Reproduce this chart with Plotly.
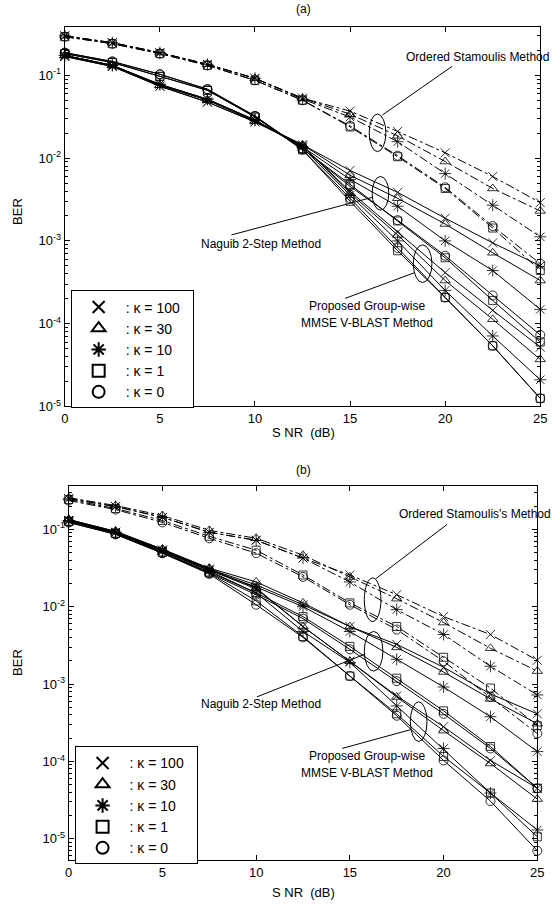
import plotly.graph_objects as go

W, H = 560, 917
snr = [0, 2.5, 5, 7.5, 10, 12.5, 15, 17.5, 20, 22.5, 25]
kappa_labels = [": \u03ba = 100", ": \u03ba = 30", ": \u03ba = 10", ": \u03ba = 1", ": \u03ba = 0"]

# ---------------- Panel (a) ----------------
a_stam_k100 = [0.30, 0.248, 0.188, 0.136, 0.092, 0.053, 0.037, 0.021, 0.0116, 0.0060, 0.0029]
a_stam_k30  = [0.30, 0.248, 0.188, 0.136, 0.092, 0.053, 0.034, 0.0186, 0.0091, 0.0043, 0.0023]
a_stam_k10  = [0.30, 0.248, 0.188, 0.136, 0.092, 0.0516, 0.0314, 0.0158, 0.0065, 0.0027, 0.00112]
a_stam_k1   = [0.293, 0.241, 0.183, 0.132, 0.087, 0.050, 0.0238, 0.0104, 0.0043, 0.00143, 0.00044]
a_stam_k0   = [0.293, 0.241, 0.183, 0.132, 0.087, 0.050, 0.0245, 0.0107, 0.00444, 0.00151, 0.00053]

a_nag_k100 = [0.169, 0.128, 0.0738, 0.0475, 0.0274, 0.0145, 0.0071, 0.00386, 0.00188, 0.000946, 0.00050]
a_nag_k30  = [0.174, 0.132, 0.0759, 0.0502, 0.0281, 0.0145, 0.0062, 0.00327, 0.0016, 0.000718, 0.000332]
a_nag_k10  = [0.174, 0.132, 0.078, 0.0516, 0.0289, 0.0137, 0.00553, 0.00262, 0.0010, 0.000438, 0.000149]
a_nag_k1   = [0.183, 0.143, 0.0973, 0.066, 0.0314, 0.013, 0.00482, 0.00174, 0.000625, 0.000191, 0.000060]
a_nag_k0   = [0.188, 0.147, 0.103, 0.068, 0.0323, 0.013, 0.00456, 0.00178, 0.000661, 0.000219, 0.000073]

a_prop_k100 = [0.169, 0.128, 0.0738, 0.0475, 0.0274, 0.0141, 0.00397, 0.00128, 0.000414, 0.000145, 0.000052]
a_prop_k30  = [0.174, 0.132, 0.0759, 0.0502, 0.0281, 0.0141, 0.00376, 0.00118, 0.000332, 0.000113, 0.000037]
a_prop_k10  = [0.174, 0.132, 0.078, 0.0516, 0.0289, 0.0134, 0.00356, 0.0010, 0.000252, 0.000071, 0.000021]
a_prop_k1   = [0.183, 0.143, 0.0973, 0.066, 0.0314, 0.0126, 0.00301, 0.00076, 0.000207, 0.000054, 0.0000125]
a_prop_k0   = [0.188, 0.147, 0.103, 0.068, 0.0323, 0.0126, 0.00327, 0.00082, 0.000207, 0.000054, 0.0000125]

# ---------------- Panel (b) ----------------
b_stam_k100 = [0.249, 0.197, 0.143, 0.0916, 0.0723, 0.0425, 0.0257, 0.0143, 0.00745, 0.00437, 0.00203]
b_stam_k30  = [0.257, 0.203, 0.151, 0.097, 0.0767, 0.0464, 0.0243, 0.0127, 0.00624, 0.0029, 0.00147]
b_stam_k10  = [0.249, 0.197, 0.143, 0.0916, 0.0723, 0.0425, 0.0209, 0.00916, 0.00437, 0.0017, 0.000723]
b_stam_k1   = [0.243, 0.186, 0.130, 0.0813, 0.0538, 0.0257, 0.0112, 0.00554, 0.00222, 0.000889, 0.00029]
b_stam_k0   = [0.236, 0.180, 0.123, 0.0767, 0.0492, 0.0243, 0.0106, 0.00507, 0.00197, 0.000681, 0.000229]

b_nag_k100 = [0.130, 0.0916, 0.0538, 0.0307, 0.0191, 0.0106, 0.00554, 0.00326, 0.00165, 0.000745, 0.000412]
b_nag_k30  = [0.134, 0.0942, 0.0554, 0.0316, 0.0209, 0.0112, 0.00554, 0.00298, 0.00143, 0.000643, 0.000307]
b_nag_k10  = [0.130, 0.0916, 0.0522, 0.0298, 0.018, 0.010, 0.00478, 0.00209, 0.000916, 0.000378, 0.000134]
b_nag_k1   = [0.127, 0.0889, 0.0507, 0.0281, 0.0151, 0.00745, 0.00307, 0.00119, 0.000451, 0.000156, 0.000045]
b_nag_k0   = [0.123, 0.0863, 0.0492, 0.0273, 0.0143, 0.00702, 0.00281, 0.00109, 0.000412, 0.000147, 0.000045]

b_prop_k100 = [0.130, 0.0916, 0.0538, 0.0298, 0.017, 0.00554, 0.00197, 0.000702, 0.000281, 0.000103, 0.000045]
b_prop_k30  = [0.134, 0.0942, 0.0554, 0.0307, 0.0175, 0.00554, 0.00197, 0.000681, 0.00025, 0.000094, 0.0000326]
b_prop_k10  = [0.130, 0.0916, 0.0522, 0.029, 0.0151, 0.00478, 0.00191, 0.000522, 0.000147, 0.000039, 0.000013]
b_prop_k1   = [0.127, 0.0889, 0.0507, 0.0273, 0.0119, 0.00412, 0.00127, 0.000412, 0.000116, 0.000039, 0.0000106]
b_prop_k0   = [0.123, 0.0863, 0.0492, 0.0265, 0.0106, 0.00401, 0.00127, 0.000389, 0.000103, 0.0000307, 0.0000070]

symbols = ["x-thin-open", "triangle-up-open", "asterisk-open", "square-open", "circle-open"]
sizes = [9, 9, 10, 8, 9]

panels = {
    "a": [("dashdot", [a_stam_k100, a_stam_k30, a_stam_k10, a_stam_k1, a_stam_k0]),
          ("solid", [a_nag_k100, a_nag_k30, a_nag_k10, a_nag_k1, a_nag_k0]),
          ("solid", [a_prop_k100, a_prop_k30, a_prop_k10, a_prop_k1, a_prop_k0])],
    "b": [("dashdot", [b_stam_k100, b_stam_k30, b_stam_k10, b_stam_k1, b_stam_k0]),
          ("solid", [b_nag_k100, b_nag_k30, b_nag_k10, b_nag_k1, b_nag_k0]),
          ("solid", [b_prop_k100, b_prop_k30, b_prop_k10, b_prop_k1, b_prop_k0])],
}
axes = {"a": ("x", "y"), "b": ("x2", "y2")}

fig = go.Figure()
for p, groups in panels.items():
    xa, ya = axes[p]
    for dash, series in groups:
        for i, vals in enumerate(series):
            fig.add_trace(go.Scatter(
                x=snr, y=vals, mode="lines+markers", xaxis=xa, yaxis=ya,
                line=dict(color="black", width=1, dash=dash),
                marker=dict(symbol=symbols[i], size=sizes[i], color="black",
                            line=dict(color="black", width=0.8)),
                cliponaxis=False, showlegend=False, hoverinfo="skip"))
    # legend entries
    for i, lab in enumerate(kappa_labels):
        fig.add_trace(go.Scatter(
            x=[None], y=[None], mode="markers", xaxis=xa, yaxis=ya,
            marker=dict(symbol=symbols[i], size=sizes[i], color="black",
                        line=dict(color="black", width=0.8)),
            name=lab + "\u00a0\u00a0", showlegend=True,
            legend="legend" if p == "a" else "legend2"))

def px(x):
    return x / W

def py(y):
    return 1 - y / H

FONT = "Liberation Sans, Arial, sans-serif"
dec_vals = [1e-5, 1e-4, 1e-3, 1e-2, 1e-1]
dec_text = ["10<sup>-5</sup>", "10<sup>-4</sup>", "10<sup>-3</sup>", "10<sup>-2</sup>", "10<sup>-1</sup>"]
minor_vals = [m * 10.0 ** e for e in range(-6, 0) for m in range(2, 10)]

def yaxis(dom, rng, anchor):
    return dict(type="log", domain=dom, range=rng, tickmode="array", anchor=anchor,
                tickvals=dec_vals, ticktext=dec_text, ticks="inside", ticklen=5,
                tickcolor="black", showline=True, linecolor="black", linewidth=1,
                mirror="ticks", showgrid=False, zeroline=False,
                tickfont=dict(family=FONT, size=13, color="black"),
                minor=dict(tickmode="array", tickvals=minor_vals, ticks="inside",
                           ticklen=3, tickcolor="black", showgrid=False))

def xaxis(dom, anchor):
    return dict(domain=dom, range=[0, 25], tickmode="array",
                tickvals=[0, 5, 10, 15, 20, 25], ticks="inside", ticklen=5,
                tickcolor="black", showline=True, linecolor="black", linewidth=1,
                mirror="ticks", showgrid=False, zeroline=False, anchor=anchor,
                tickfont=dict(family=FONT, size=13, color="black"))

leg_common = dict(xanchor="left", yanchor="top", bordercolor="black", borderwidth=1,
                  bgcolor="white", font=dict(family=FONT, size=14, color="black"),
                  tracegroupgap=0, itemsizing="constant", itemwidth=44)

fig.update_layout(
    width=W, height=H, margin=dict(l=0, r=0, t=0, b=0),
    paper_bgcolor="white", plot_bgcolor="white",
    xaxis=xaxis([px(62), px(547)], "y"),
    yaxis=yaxis([py(410), py(27)], [-5, -0.413], "x"),
    xaxis2=xaxis([px(66), px(544)], "y2"),
    yaxis2=yaxis([py(868), py(490)], [-5.28, -0.436], "x2"),
    legend=dict(x=px(68), y=py(293), **leg_common),
    legend2=dict(x=px(72), y=py(753), **leg_common),
)

ann = []
def text(x, y, s, size=12, angle=0, xanchor="center"):
    ann.append(dict(x=px(x), y=py(y), xref="paper", yref="paper", text=s,
                    showarrow=False, textangle=angle, xanchor=xanchor, yanchor="middle",
                    font=dict(family=FONT, size=size, color="black")))

text(305, 9, "(a)", 12)
text(305, 436, "S NR  (dB)", 13)
text(13, 213, "BER", 13, angle=-90)
text(483, 57, "Ordered Stamoulis Method", 12)
text(262, 246, "Naguib 2-Step Method", 12)
text(370, 309, "Proposed Group-wise", 12)
text(370, 326, "MMSE V-BLAST Method", 12)

text(305, 474, "(b)", 12)
text(305, 900, "S NR  (dB)", 13)
text(13, 668, "BER", 13, angle=-90)
text(480, 519, "Ordered Stamoulis's Method", 12)
text(262, 710, "Naguib 2-Step Method", 12)
text(370, 763, "Proposed Group-wise", 12)
text(370, 780, "MMSE V-BLAST Method", 12)

shapes = []
def ellipse(cx, cy, w, h):
    shapes.append(dict(type="circle", xref="paper", yref="paper",
                       x0=px(cx - w / 2), x1=px(cx + w / 2),
                       y0=py(cy + h / 2), y1=py(cy - h / 2),
                       line=dict(color="black", width=1)))

def seg(x0, y0, x1, y1):
    shapes.append(dict(type="line", xref="paper", yref="paper",
                       x0=px(x0), y0=py(y0), x1=px(x1), y1=py(y1),
                       line=dict(color="black", width=1)))

# panel (a)
ellipse(381, 134, 17, 38)
seg(386, 116, 457, 67)
ellipse(384, 195, 17, 34)
seg(376, 199, 232, 237)
ellipse(427, 266, 19, 38)
seg(419, 275, 348, 301)
# panel (b)
ellipse(376, 605, 17, 44)
seg(379, 584, 452, 529)
ellipse(377, 657, 19, 40)
seg(368, 660, 258, 703)
ellipse(423, 728, 17, 40)
seg(415, 736, 345, 755)

fig.update_layout(annotations=ann, shapes=shapes)
fig.write_html("out.html", config={"displayModeBar": False},
               post_script="document.body.style.margin='0';document.body.style.padding='0';"
                           "document.documentElement.style.overflow='hidden';"
                           "document.body.style.overflow='hidden';")
